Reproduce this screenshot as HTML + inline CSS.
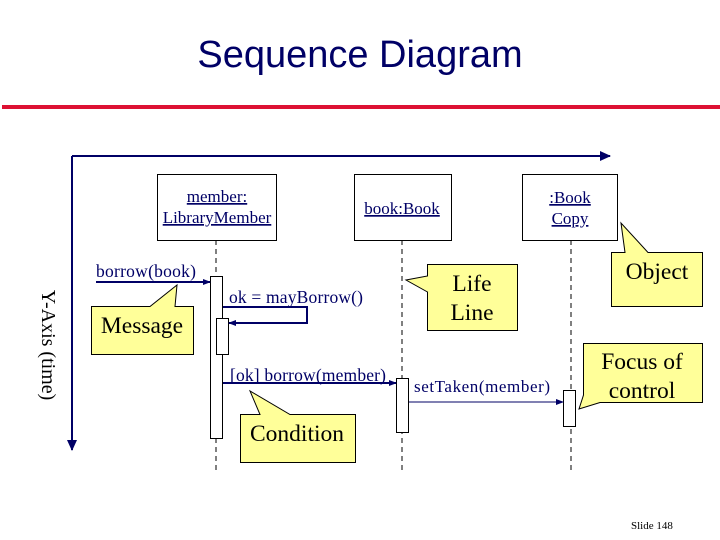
<!DOCTYPE html>
<html><head><meta charset="utf-8"><style>
html,body{margin:0;padding:0;background:#fff;}
body{width:720px;height:540px;overflow:hidden;position:relative;}
</style></head><body>
<svg width="720" height="540" viewBox="0 0 720 540" xmlns="http://www.w3.org/2000/svg" style="position:absolute;left:0;top:0">
<defs>
<marker id="ah" markerWidth="8" markerHeight="8" refX="7" refY="4" orient="auto" markerUnits="userSpaceOnUse"><path d="M0,1 L8,4 L0,7 z" fill="#000066"/></marker>
<marker id="ahb" markerWidth="12" markerHeight="12" refX="10" refY="6" orient="auto" markerUnits="userSpaceOnUse"><path d="M0,1 L11,6 L0,11 z" fill="#000066"/></marker>
</defs>
<text x="360" y="67" text-anchor="middle" font-family="Liberation Sans, sans-serif" font-size="38" fill="#000066">Sequence Diagram</text>
<rect x="2" y="105" width="718" height="4" fill="#dd1133"/>

<line x1="72" y1="156" x2="610" y2="156" stroke="#000066" stroke-width="2" marker-end="url(#ahb)"/>
<line x1="72" y1="156" x2="72" y2="450" stroke="#000066" stroke-width="2" marker-end="url(#ahb)"/>
<text transform="translate(42,345) rotate(90)" text-anchor="middle" font-family="Liberation Serif, serif" font-size="20" fill="#000">Y-Axis (time)</text>

<g stroke="#000" stroke-width="1" stroke-dasharray="5,4">
<line x1="216" y1="240" x2="216" y2="470"/>
<line x1="402" y1="240" x2="402" y2="470"/>
<line x1="571" y1="240" x2="571" y2="470"/>
</g>

<g fill="#fff" stroke="#000" stroke-width="1">
<rect x="157.5" y="174.5" width="119" height="66"/>
<rect x="354.5" y="174.5" width="97" height="66"/>
<rect x="522.5" y="174.5" width="95" height="66"/>
</g>
<g font-family="Liberation Serif, serif" font-size="17" fill="#000066" text-anchor="middle" text-decoration="underline">
<text x="217" y="202">member:</text>
<text x="217" y="223">LibraryMember</text>
<text x="402" y="214">book:Book</text>
<text x="570" y="203">:Book</text>
<text x="570" y="224">Copy</text>
</g>

<g fill="#fff" stroke="#000" stroke-width="1">
<rect x="210.5" y="276.5" width="12" height="162"/>
<rect x="216.5" y="318.5" width="12" height="36"/>
<rect x="396.5" y="378.5" width="12" height="54"/>
<rect x="563.5" y="390.5" width="12" height="36"/>
</g>

<g stroke="#000066" stroke-width="2" fill="none">
<line x1="96" y1="282" x2="210" y2="282" marker-end="url(#ah)"/>
<polyline points="223,307 307,307 307,323 229,323" marker-end="url(#ah)"/>
<line x1="223" y1="383" x2="396" y2="383" marker-end="url(#ah)"/>
</g>
<line x1="409" y1="402" x2="563" y2="402" stroke="#000066" stroke-width="1" marker-end="url(#ah)"/>
<g font-family="Liberation Serif, serif" font-size="17.5" fill="#000066">
<text x="96" y="277" textLength="100">borrow(book)</text>
<text x="229" y="303" textLength="134">ok = mayBorrow()</text>
<text x="230" y="381" textLength="156">[ok] borrow(member)</text>
<text x="414" y="392" font-size="17" textLength="136">setTaken(member)</text>
</g>

<g fill="#ffff99" stroke="#000" stroke-width="1">
<path d="M91.5,306.5 H150 L177,285 L175,306.5 H193.5 V354.5 H91.5 Z"/>
<path d="M240.5,414.5 H260 L250,391 L290,414.5 H355.5 V462.5 H240.5 Z"/>
<path d="M427.5,264.5 H517.5 V330.5 H427.5 V292 L406,280 L427.5,276 Z"/>
<path d="M611.5,252.5 H625 L621,223 L648,252.5 H702.5 V306.5 H611.5 Z"/>
<path d="M583.5,343.5 H702.5 V402.5 H600 L579,409 L583.5,395 Z"/>
</g>
<g font-family="Liberation Serif, serif" font-size="23.5" fill="#000" text-anchor="middle">
<text x="142" y="333">Message</text>
<text x="297" y="441">Condition</text>
<text x="472" y="291">Life</text>
<text x="472" y="320">Line</text>
<text x="657" y="279">Object</text>
<text x="642" y="369">Focus of</text>
<text x="642" y="398">control</text>
</g>

<text x="631" y="529" font-family="Liberation Serif, serif" font-size="11" fill="#000">Slide  148</text>
</svg>
</body></html>
